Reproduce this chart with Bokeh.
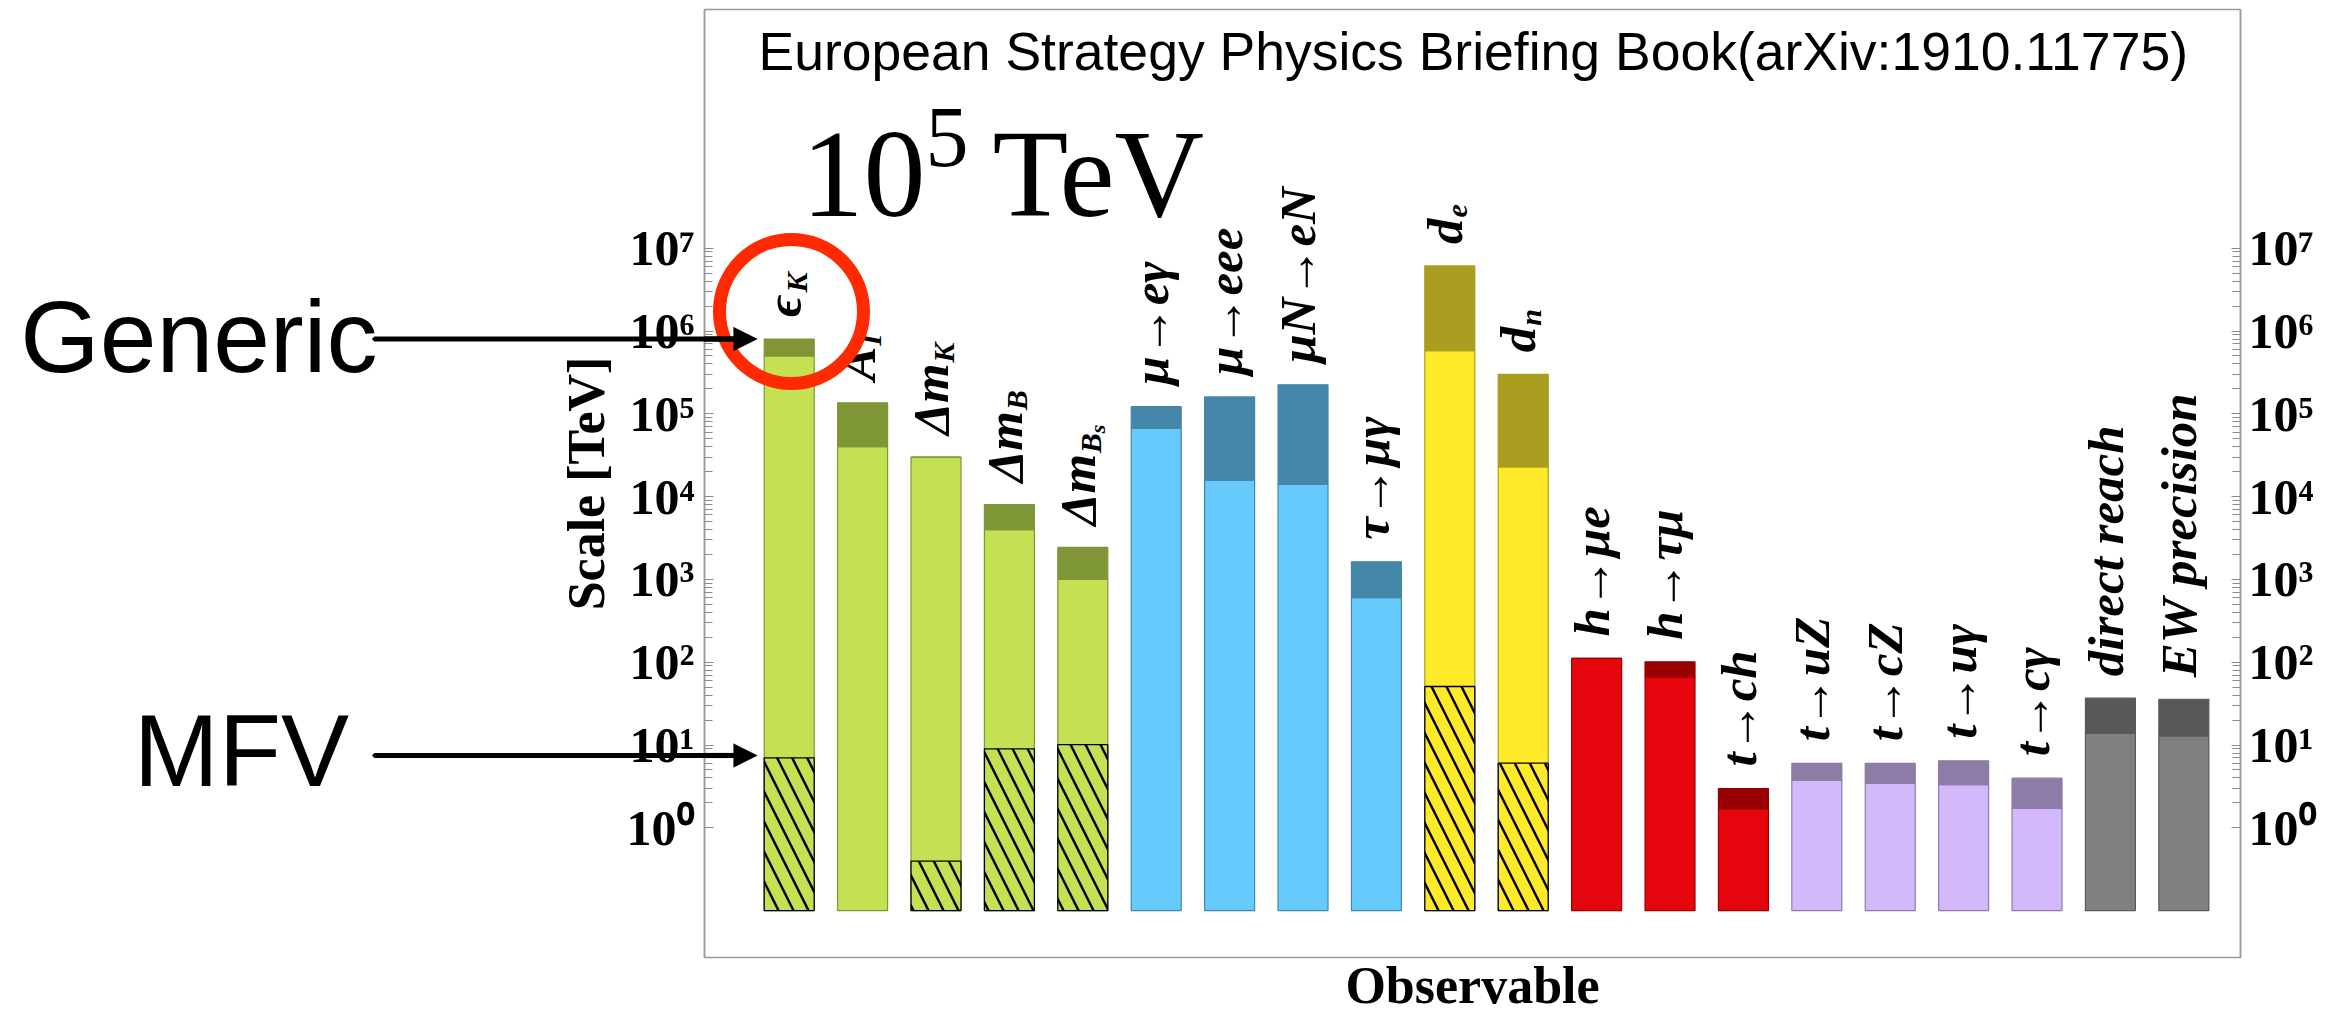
import math
from bokeh.plotting import figure
from bokeh.models import (Range1d, LogAxis, FixedTicker, Label, PolyAnnotation,
                          ColumnDataSource)
from bokeh.core.properties import value
from bokeh.embed import file_html
from bokeh.resources import INLINE

# ---------------- data ----------------
label_main = ["ϵ", "A", "Δm", "Δm", "Δm", "μ→eγ", "μ→eee", "μN→eN", "τ→μγ",
              "d", "d", "h→μe", "h→τμ", "t→ch", "t→uZ", "t→cZ", "t→uγ", "t→cγ",
              "direct reach", "EW precision"]
label_sub = ["K", "Γ", "K", "B", "B", "", "", "", "", "e", "n", "", "", "", "", "", "", "",
             "", ""]
label_subsub = ["", "", "", "", "s", "", "", "", "", "", "", "", "", "", "", "", "", "",
                "", ""]
group = ["quark"] * 5 + ["lepton"] * 4 + ["edm"] * 2 + ["higgs"] * 3 + ["top"] * 4 + ["ref"] * 2

# scale in TeV: lighter (lower) segment top, darker (upper) segment top, MFV (hatched) top
scale_light = [5.0e5, 4.0e4, 3.0e4, 4.0e3, 1.0e3, 6.7e4, 1.58e4, 1.40e4, 604,
               5.8e5, 2.29e4, 111, 66.6, 1.70, 3.73, 3.43, 3.31, 1.71, 13.9, 12.9]
scale_dark = [8.0e5, 1.36e5, 3.0e4, 8.0e3, 2.43e3, 1.22e5, 1.60e5, 2.24e5, 1630,
              6.1e6, 3.0e5, 111, 101, 2.98, 6.0, 6.0, 6.45, 3.97, 36.8, 35.7]
scale_mfv = [7.0, None, 0.395, 9.0, 10.1, None, None, None, None,
             50.9, 6.03, None, None, None, None, None, None, None, None, None]
scale_base = 0.1

y_ticks = [1, 10, 100, 1000, 10000, 100000, 1000000, 10000000]
y_tick_labels = ["10⁰", "10¹", "10²", "10³", "10⁴", "10⁵", "10⁶", "10⁷"]

light_color = {"quark": "#C4E153", "lepton": "#66CAFD", "edm": "#FFEA2A",
               "higgs": "#E4060C", "top": "#D3B9FB", "ref": "#808080"}
dark_color = {"quark": "#7F9637", "lepton": "#4487A8", "edm": "#A99E1F",
              "higgs": "#990004", "top": "#8C7CA6", "ref": "#585858"}

# ---------------- geometry (page pixels) ----------------
CANVAS_W, CANVAS_H = 2330, 1018
CANVAS_LEFT, CANVAS_TOP = 8, 1          # where the canvas was observed to land on the page
FRAME_L, FRAME_R, FRAME_T, FRAME_B = 712, 2248, 10, 958
Y_ONE, DECADE = 828.3, 82.8            # page row of 10^0 and pixels per decade
LOG_TOP = (Y_ONE - FRAME_T) / DECADE
LOG_BOT = (Y_ONE - FRAME_B) / DECADE
X0, X1 = -0.154, 20.772
SHIFT = 0.25    # rendered alphabetic baseline sits ~0.25 em below the requested one
TEXT_DY = -7    # extra calibration for horizontal texts


def px_x(px):
    return X0 + (px - FRAME_L) / (FRAME_R - FRAME_L) * (X1 - X0)


def px_y(py):
    return 10 ** ((Y_ONE - py) / DECADE)


xs = list(range(1, len(label_main) + 1))

p = figure(width=CANVAS_W, height=CANVAS_H, output_backend="svg", toolbar_location=None,
           x_range=Range1d(X0, X1), y_range=Range1d(10 ** LOG_BOT, 10 ** LOG_TOP),
           y_axis_type="log", x_axis_location=None,
           min_border_left=FRAME_L - CANVAS_LEFT,
           min_border_right=CANVAS_W - (FRAME_R - CANVAS_LEFT),
           min_border_top=FRAME_T - CANVAS_TOP,
           min_border_bottom=CANVAS_H - (FRAME_B - CANVAS_TOP))
p.xgrid.visible = False
p.ygrid.visible = False
p.outline_line_color = "#9a9a9a"
p.outline_line_width = 1.5
p.background_fill_color = "white"
p.border_fill_color = "white"

minor = [m * 10 ** k for k in range(0, 7) for m in range(2, 10)]
overrides = {t: lab for t, lab in zip(y_ticks, y_tick_labels)}


def style_yaxis(ax):
    ax.ticker = FixedTicker(ticks=y_ticks, minor_ticks=minor)
    ax.major_label_overrides = overrides
    ax.axis_line_color = "#9a9a9a"
    ax.axis_line_width = 1.5
    ax.major_tick_line_color = "#8a8a8a"
    ax.minor_tick_line_color = "#8a8a8a"
    ax.major_tick_in = 9
    ax.major_tick_out = 0
    ax.minor_tick_in = 8
    ax.minor_tick_out = 0
    ax.major_label_text_font = "Liberation Serif"
    ax.major_label_text_font_style = "bold"
    ax.major_label_text_font_size = "50px"
    ax.major_label_text_color = "black"
    ax.major_label_standoff = 10


yl = p.yaxis[0]
style_yaxis(yl)
yl.axis_label = "Scale [TeV]"
yl.axis_label_text_font = "Liberation Serif"
yl.axis_label_text_font_style = "bold"
yl.axis_label_text_font_size = "52px"
yl.axis_label_text_color = "black"
yl.axis_label_standoff = 9

yr = LogAxis()
style_yaxis(yr)
yr.major_label_standoff = 8
p.add_layout(yr, "right")

# ---------------- bars ----------------
bar_w = 0.681
src = ColumnDataSource(dict(
    x=xs, light=scale_light, dark=scale_dark,
    base=[scale_base] * len(xs),
    lc=[light_color[g] for g in group], dc=[dark_color[g] for g in group]))
p.vbar(x="x", width=bar_w, bottom="base", top="light", source=src,
       fill_color="lc", line_color="dc", line_width=1.2)
p.vbar(x="x", width=bar_w, bottom="light", top="dark", source=src,
       fill_color="dc", line_color="dc", line_width=1.2)

mi = [i for i, v in enumerate(scale_mfv) if v is not None]
src_mfv = ColumnDataSource(dict(
    x=[xs[i] for i in mi], top=[scale_mfv[i] for i in mi],
    base=[scale_base] * len(mi), lc=[light_color[group[i]] for i in mi]))
p.vbar(x="x", width=bar_w, bottom="base", top="top", source=src_mfv,
       fill_color="lc", line_color="black", line_width=1.3,
       hatch_pattern="\\", hatch_color="black", hatch_weight=2.4, hatch_scale=30)

# ---------------- rotated observable labels ----------------
FS_MAIN, FS_SUB, FS_SUBSUB = 51, 30, 22
GAP = 22
em = {"ϵ": 0.46, "A": 0.667, "Δ": 0.62, "m": 0.778, "d": 0.5, "B": 0.667}


def width_px(s, fs):
    return sum(em.get(c, 0.5) for c in s) * fs


p.text(x=xs, y=scale_dark, text=label_main, angle=math.pi / 2,
       text_align="left", text_baseline="alphabetic", x_offset=8 - SHIFT * FS_MAIN,
       y_offset=-GAP,
       text_font=value("Liberation Serif"), text_font_style="bold italic",
       text_font_size=f"{FS_MAIN}px", text_color="black")

si = [i for i, s in enumerate(label_sub) if s]
p.text(x=[xs[i] for i in si], y=[scale_dark[i] for i in si], text=[label_sub[i] for i in si],
       angle=math.pi / 2, text_align="left", text_baseline="alphabetic",
       x_offset=15 - SHIFT * FS_SUB,
       y_offset=[-(GAP + width_px(label_main[i], FS_MAIN) + 1) for i in si],
       text_font=value("Liberation Serif"), text_font_style="bold italic",
       text_font_size=f"{FS_SUB}px", text_color="black")

ssi = [i for i, s in enumerate(label_subsub) if s]
p.text(x=[xs[i] for i in ssi], y=[scale_dark[i] for i in ssi],
       text=[label_subsub[i] for i in ssi],
       angle=math.pi / 2, text_align="left", text_baseline="alphabetic",
       x_offset=20 - SHIFT * FS_SUBSUB,
       y_offset=[-(GAP + width_px(label_main[i], FS_MAIN) + width_px(label_sub[i], FS_SUB) + 1)
                 for i in ssi],
       text_font=value("Liberation Serif"), text_font_style="bold italic",
       text_font_size=f"{FS_SUBSUB}px", text_color="black")

# ---------------- highlight circle around epsilon_K ----------------
p.scatter(x=[px_x(799)], y=[px_y(312)], marker="circle", size=144,
          fill_color=None, line_color="#FF2A00", line_width=13)


# ---------------- texts inside frame ----------------
def frame_text(x_px, base_px, text, font, fs):
    p.text(x=[px_x(x_px)], y=[px_y(base_px - SHIFT * fs + TEXT_DY)], text=[text],
           text_font=value(font), text_font_size=f"{fs}px", text_color="black",
           text_baseline="alphabetic", text_align="left")


frame_text(766, 72, "European Strategy Physics Briefing Book(arXiv:1910.11775)",
           "Liberation Sans", 53.5)
frame_text(809, 213, "10", "Liberation Serif", 124)
frame_text(933, 166, "5", "Liberation Serif", 86)
frame_text(1000, 213, "TeV", "Liberation Serif", 124)

# ---------------- annotations outside the frame (side panels: not clipped) ----------------
FS_BIG = 102
p.add_layout(Label(x=px_x(385), y=px_y(551.5 + TEXT_DY), text="Generic\nMFV\u00a0",
                   text_font="Liberation Sans", text_font_size=f"{FS_BIG}px",
                   text_line_height=415 / (1.12 * FS_BIG),
                   text_color="black", text_baseline="alphabetic", text_align="right"), "left")

p.add_layout(Label(x=px_x(1480), y=px_y(1006 - SHIFT * 52 + TEXT_DY), text="Observable",
                   text_font="Liberation Serif", text_font_size="52px", text_font_style="bold",
                   text_color="black", text_baseline="alphabetic", text_align="center"), "below")

# arrow shafts left of the frame: thin boxes (side-panel labels are not clipped)
for yy in (339.5, 756.0):
    p.add_layout(Label(x=px_x(562), y=px_y(yy), text="\u00a0", text_font_size="1px",
                       text_align="center", text_baseline="middle",
                       background_fill_color="black", background_fill_alpha=1.0,
                       border_line_color="black", border_line_width=4,
                       padding=dict(left=180, right=180, top=0, bottom=0)), "below")


# arrow heads inside the frame
def arrow_head(y0):
    pts = [(700, y0 - 2.5), (741, y0 - 2.5), (741, y0 - 12), (765, y0),
           (741, y0 + 12), (741, y0 + 2.5), (700, y0 + 2.5)]
    return PolyAnnotation(xs=[px_x(a) for a, b in pts], ys=[px_y(b) for a, b in pts],
                          xs_units="data", ys_units="data",
                          fill_color="black", fill_alpha=1.0, line_color="black",
                          line_width=0.5)


for yy in (339.5, 756.0):
    p.add_layout(arrow_head(yy))

open("out.html", "w").write(file_html(p, INLINE))
